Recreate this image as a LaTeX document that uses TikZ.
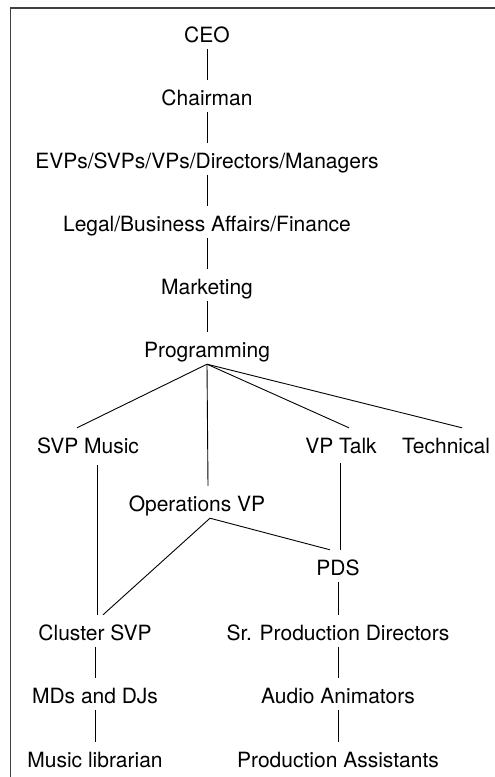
\documentclass[tikz,border=0pt]{standalone}
\usepackage{fontspec}
\setmainfont{TeX Gyre Heros}
\begin{document}
\begin{tikzpicture}[x=1pt,y=-1pt,
    post/.style={anchor=base,inner xsep=0pt,inner ysep=3pt,text height=22pt,text depth=4pt,font=\fontsize{21}{25}\selectfont},
    link/.style={line width=0.9pt}]
        \useasboundingbox (0,0) rectangle (495,777);
        %% frame
        \draw[line width=1.5pt,black!75] (495,8) -- (10.5,8) -- (10.5,777);
        %% top chain
        \node[post] (ceo) at (207,42) {CEO};
        \node[post] (chair) at (207,105) {Chairman};
        \node[post] (evp) at (207,168) {EVPs/SVPs/VPs/Directors/Managers};
        \node[post] (legal) at (207,231) {Legal/Business Affairs/Finance};
        \node[post] (mkt) at (207,294) {Marketing};
        \node[post] (prog) at (207,357) {Programming};
        \draw[link] (ceo.south) -- (chair.north);
        \draw[link] (chair.south) -- (evp.north);
        \draw[link] (evp.south) -- (legal.north);
        \draw[link] (legal.south) -- (mkt.north);
        \draw[link] (mkt.south) -- (prog.north);
        %% programming branches
        \node[post] (svp) at (88,453) {SVP Music};
        \node[post] (talk) at (341,453) {VP Talk};
        \node[post] (tech) at (446,453) {Technical};
        \node[post] (ops) at (197,511) {Operations VP};
        \draw[link] (prog.south) -- ([xshift=-11pt]svp.north);
        \draw[link] (prog.south) -- ([xshift=11pt]ops.north);
        \draw[link] (prog.south) -- ([xshift=8pt]talk.north);
        \draw[link] (prog.south) -- ([xshift=16pt]tech.north);
        %% music side
        \node[post] (cluster) at (95,640) {Cluster SVP};
        \node[post] (mds) at (95,703) {MDs and DJs};
        \node[post] (lib) at (95,767) {Music librarian};
        \draw[link] ([shift={(9pt,-5pt)}]svp.south) -- ([xshift=2pt]cluster.north);
        \draw[link] ([xshift=13pt]ops.south) -- ([xshift=8pt]cluster.north);
        \draw[link] (cluster.south) -- (mds.north);
        \draw[link] (mds.south) -- (lib.north);
        %% production side
        \node[post] (pds) at (338,575) {PDS};
        \node[post] (srpd) at (338,640) {Sr. Production Directors};
        \node[post] (audio) at (338,703) {Audio Animators};
        \node[post] (pa) at (338,767) {Production Assistants};
        \draw[link] ([shift={(-1pt,-3pt)}]talk.south) -- ([xshift=2pt]pds.north);
        \draw[link] ([xshift=13pt]ops.south) -- ([xshift=-8pt]pds.north);
        \draw[link] (pds.south) -- (srpd.north);
        \draw[link] (srpd.south) -- (audio.north);
        \draw[link] (audio.south) -- (pa.north);
    \end{tikzpicture}
\end{document}
